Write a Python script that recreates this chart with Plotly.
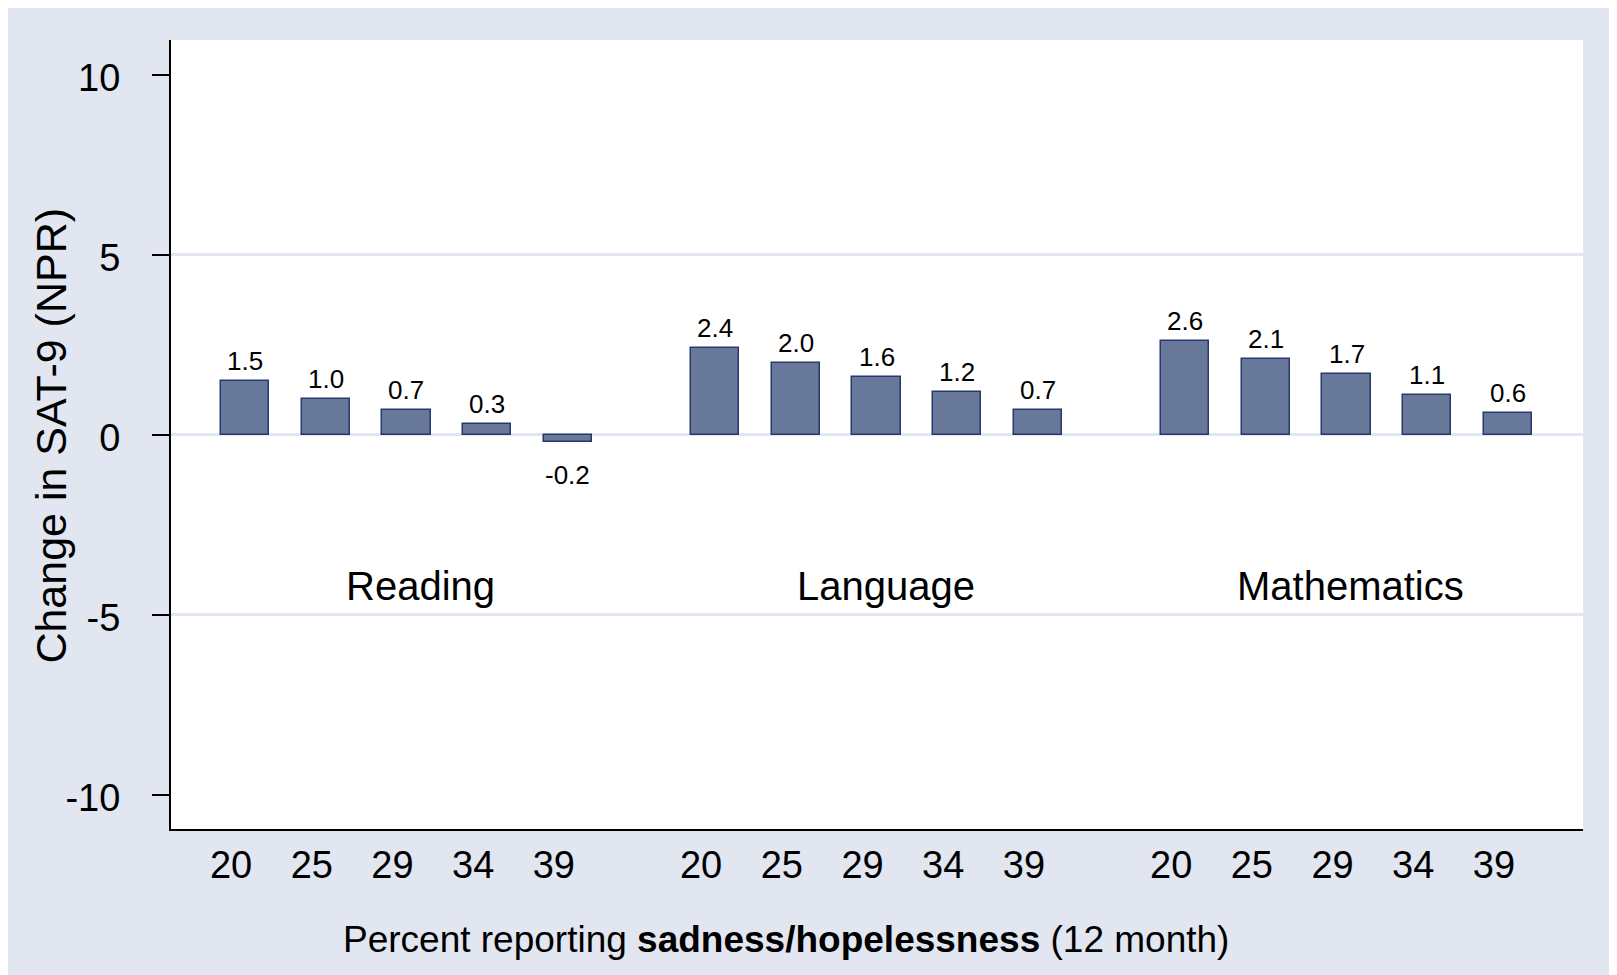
import plotly.graph_objects as go

# data
subjects = ['Reading', 'Language', 'Mathematics']
pct_labels = ['20', '25', '29', '34', '39']
reading = [1.5, 1.0, 0.7, 0.3, -0.2]
language = [2.4, 2.0, 1.6, 1.2, 0.7]
mathematics = [2.6, 2.1, 1.7, 1.1, 0.6]

FONT = 'Liberation Sans, Arial, Helvetica, sans-serif'
BG = '#E1E6F0'
BAR = '#67789A'
BAR_EDGE = '#28396B'

# bar positions: 5 bars per subject, groups separated by a wider gap
GROUP_STEP = 5.825
series = [reading, language, mathematics]
x_pos, y_val, x_text = [], [], []
for g, vals in enumerate(series):
    for i, v in enumerate(vals):
        x_pos.append(g * GROUP_STEP + i)
        y_val.append(v)
        x_text.append(pct_labels[i])

fig = go.Figure()

fig.add_trace(go.Bar(
    x=x_pos,
    y=y_val,
    width=0.6,
    marker=dict(color=BAR, line=dict(color=BAR_EDGE, width=1.5)),
    showlegend=False,
    hovertemplate='%{y:.1f}<extra></extra>',
))

# empty trace so the overlaid y axis (ticks + labels) gets drawn
fig.add_trace(go.Scatter(x=[], y=[], yaxis='y2', showlegend=False))

# value labels above positive bars, below negative ones
for x, v in zip(x_pos, y_val):
    fig.add_annotation(
        x=x, y=v, xref='x', yref='y',
        text=f'{v:.1f}', showarrow=False,
        yanchor='bottom' if v >= 0 else 'top',
        yshift=3 if v >= 0 else -16,
        font=dict(family=FONT, size=26, color='black'),
    )

# subject labels in the middle of each group (small per-label nudge)
label_shift = [14, 9, 4]
for g, name in enumerate(subjects):
    fig.add_annotation(
        x=g * GROUP_STEP + 2, y=-4.2, xref='x', yref='y',
        text=name, showarrow=False, xshift=label_shift[g],
        font=dict(family=FONT, size=40, color='black'),
    )

fig.add_annotation(
    x=-0.0846, y=0.498, xref='paper', yref='paper',
    xanchor='center', yanchor='middle',
    text='Change in SAT-9 (NPR)', textangle=-90, showarrow=False,
    font=dict(family=FONT, size=43, color='black'),
)
fig.add_annotation(
    x=0.4356, y=-0.140, xref='paper', yref='paper',
    xanchor='center', yanchor='middle',
    text='Percent reporting <b>sadness/hopelessness</b> (12 month)',
    showarrow=False,
    font=dict(family=FONT, size=37, color='black'),
)

y_range = [-10.95, 10.97]

fig.update_layout(
    width=1609,
    height=967,
    paper_bgcolor=BG,
    plot_bgcolor='white',
    margin=dict(l=163, r=34, t=32, b=146),
    font=dict(family=FONT, color='black'),
    bargap=0,
    xaxis=dict(
        range=[-0.918, 16.58],
        tickvals=x_pos,
        ticktext=x_text,
        tickfont=dict(family=FONT, size=38, color='black'),
        ticks='',
        ticklabelstandoff=1,
        ticklabelshift=-14,
        showgrid=False,
        zeroline=False,
        showline=True,
        linecolor='black',
        linewidth=2,
    ),
    yaxis=dict(
        range=y_range,
        tickvals=[-5, 0, 5],
        showticklabels=False,
        ticks='',
        showgrid=True,
        gridcolor=BG,
        gridwidth=3,
        zeroline=False,
        showline=False,
    ),
    yaxis2=dict(
        range=y_range,
        overlaying='y',
        side='left',
        tickvals=[-10, -5, 0, 5, 10],
        ticktext=['-10', '-5', '0', '5', '10'],
        tickfont=dict(family=FONT, size=38, color='black'),
        ticks='outside',
        ticklen=17,
        tickwidth=2,
        tickcolor='black',
        ticklabelstandoff=24,
        ticklabelshift=3,
        showgrid=False,
        zeroline=False,
        showline=True,
        linecolor='black',
        linewidth=2,
    ),
)

fig.write_html('out.html')
